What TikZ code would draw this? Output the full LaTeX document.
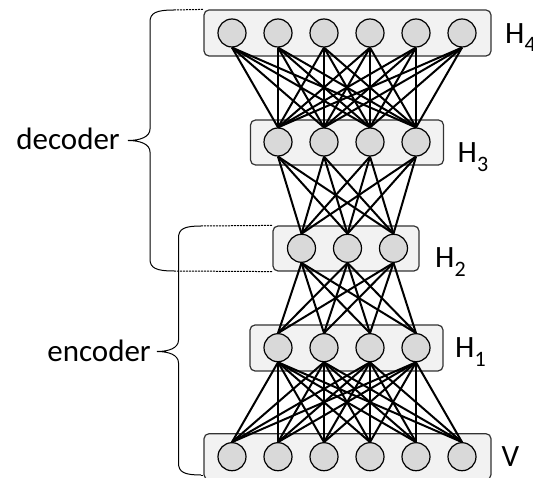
\documentclass[tikz,border=0pt]{standalone}
\usepackage{fontspec}
\setmainfont{Carlito}
\begin{document}
\begin{tikzpicture}[x=1pt,y=-1pt,
  layerbox/.style={draw=black!80, fill=black!5, line width=1.2pt, rounded corners=5pt, inner sep=0pt},
  unit/.style={circle, draw=black, fill=black!15, line width=1.2pt, minimum size=28pt, inner sep=0pt},
  edge/.style={line width=2pt, black},
  brace/.style={line width=1pt, black},
  dotted link/.style={line width=1pt, dash pattern=on 2pt off 1pt, black},
  lbl/.style={font=\fontsize{31}{36}\selectfont, inner sep=0pt}]
\useasboundingbox (0,0) rectangle (533,478);
% boxes
\node[layerbox, minimum width=287pt, minimum height=46pt] (hbox4) at (347.5,33) {};
\node[layerbox, minimum width=193pt, minimum height=45pt] (hbox3) at (347,142.5) {};
\node[layerbox, minimum width=146pt, minimum height=45pt] (hbox2) at (346,248.5) {};
\node[layerbox, minimum width=193pt, minimum height=46pt] (hbox1) at (346.5,348) {};
\node[layerbox, minimum width=287pt, minimum height=46pt] (vbox) at (347.5,456.7) {};
% units
\foreach \i in {1,...,6} \node[unit] (v\i) at ({232+46*(\i-1)},456.7) {};
\foreach \i in {1,...,4} \node[unit] (a\i) at ({278+46*(\i-1)},347.7) {};
\foreach \i in {1,...,3} \node[unit] (b\i) at ({301.5+46*(\i-1)},248.3) {};
\foreach \i in {1,...,4} \node[unit] (c\i) at ({278+46*(\i-1)},142) {};
\foreach \i in {1,...,6} \node[unit] (d\i) at ({232+46*(\i-1)},33) {};
% edges
\foreach \i in {1,...,6} \foreach \j in {1,...,4} \draw[edge] (d\i.south) -- (c\j.north);
\foreach \i in {1,...,4} \foreach \j in {1,...,3} \draw[edge] (c\i.south) -- (b\j.north);
\foreach \i in {1,...,3} \foreach \j in {1,...,4} \draw[edge] (b\i.south) -- (a\j.north);
\foreach \i in {1,...,4} \foreach \j in {1,...,6} \draw[edge] (a\i.south) -- (v\j.north);
% labels
\node[lbl, anchor=base west] (l4) at (505,43.3) {H\raisebox{-8.5pt}{\fontsize{22}{22}\selectfont 4}};
\node[lbl, anchor=base west] (l3) at (457.5,163) {H\raisebox{-8.5pt}{\fontsize{22}{22}\selectfont 3}};
\node[lbl, anchor=base west] (l2) at (435,268) {H\raisebox{-8.5pt}{\fontsize{22}{22}\selectfont 2}};
\node[lbl, anchor=base west] (l1) at (455,358) {H\raisebox{-8.5pt}{\fontsize{22}{22}\selectfont 1}};
\node[lbl, anchor=base west] (lv) at (501.5,466.7) {V};
% braces
\coordinate (dtop) at (174,10);
\coordinate (dbot) at (174,271);
\coordinate (etop) at (201,226);
\coordinate (ebot) at (201,475);
\draw[brace] (dtop) .. controls (156,10) and (150,13) .. (150,22) -- (150,129)
  .. controls (150,137) and (140,140.5) .. (128,140.5) coordinate (dtip)
  .. controls (140,140.5) and (150,144) .. (150,152) -- (150,259)
  .. controls (150,268) and (156,271) .. (dbot);
\draw[brace] (etop) .. controls (184,226) and (178.5,229) .. (178.5,238) -- (178.5,340)
  .. controls (178.5,348) and (169,351.5) .. (157,351.5) coordinate (etip)
  .. controls (169,351.5) and (178.5,355) .. (178.5,363) -- (178.5,463)
  .. controls (178.5,472) and (184,475) .. (ebot);
\draw[dotted link] (dtop) -- (hbox4.north west -| hbox4.west);
\draw[dotted link] (dbot) -- (hbox2.south west);
\draw[dotted link] (etop) -- (hbox2.north west);
\draw[dotted link] (ebot) -- (ebot -| vbox.west);
\node[lbl, anchor=base east] (dec) at (120,149.3) {decoder};
\node[lbl, anchor=base east] (enc) at (151,361.7) {encoder};
\end{tikzpicture}
\end{document}
